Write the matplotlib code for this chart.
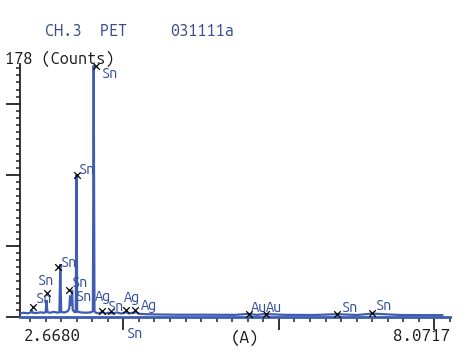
import matplotlib
matplotlib.use('Agg')
import matplotlib.pyplot as plt
from matplotlib import font_manager

# ---------------- data ----------------
wavelength = [2.313, 2.36, 2.42, 2.46, 2.475, 2.49, 2.54, 2.60, 2.64, 2.670, 2.682, 2.694,
              2.73, 2.78, 2.83, 2.861, 2.873, 2.885, 2.93, 2.975, 2.998, 3.009, 3.016, 3.023,
              3.030, 3.037, 3.046, 3.07, 3.088, 3.098, 3.108, 3.15, 3.22, 3.29, 3.326, 3.337,
              3.348, 3.37, 3.41, 3.46, 3.50, 3.54, 3.60, 3.66, 3.72, 3.78, 3.83, 3.88, 3.93,
              3.97, 4.05, 4.2, 4.5, 4.9, 5.3, 5.49, 5.6, 5.72, 6.0, 6.4, 6.72, 7.0, 7.2, 7.6,
              8.0, 8.181]
counts = [2.5, 3.0, 2.6, 3.2, 5.0, 3.0, 2.8, 3.3, 2.9, 3.5, 12.0, 3.4,
          3.0, 3.6, 3.1, 3.4, 37.0, 3.5, 3.2, 4.0, 6.0, 15.0, 8.0, 12.0,
          9.0, 19.0, 5.0, 3.5, 3.6, 100.0, 3.8, 3.3, 3.0, 3.2, 4.0, 177.0,
          4.0, 3.0, 2.6, 3.6, 2.4, 3.0, 2.6, 3.2, 2.4, 3.4, 2.5, 3.0, 3.3,
          2.2, 2.0, 1.8, 1.6, 1.6, 1.5, 2.2, 1.5, 2.1, 1.5, 1.4, 2.0, 1.4, 2.4, 1.4,
          1.3, 1.3]

marker_wl = [2.4906, 2.6953, 2.8454, 2.9955, 3.1047, 3.3640, 3.4595, 3.5823, 3.7870,
             3.9098, 5.4927, 5.7247, 6.7209, 7.1985]
marker_ct = [7.0, 16.9, 35.2, 19.0, 99.9, 176.6, 4.2, 4.2, 4.9, 4.9, 2.1, 2.1, 2.1, 2.8]

# peak labels: (text, marker index)
peak_labels = [("Sn", 0), ("Sn", 1), ("Sn", 2), ("Sn", 3), ("Sn", 3), ("Sn", 4), ("Sn", 5),
               ("Ag", 6), ("Sn", 7), ("Ag", 8), ("Ag", 9), ("Au", 10), ("Au", 11),
               ("Sn", 12), ("Sn", 13)]
# label offsets in pixels (dx right, dy up) from the marker
label_offsets = [(2, 4), (-10, 8), (2, 0), (2, 3), (6, -11), (1, 1), (5, -12),
                 (-8, 10), (-4, 0), (-2, 8), (6, 0), (2, 2), (0, 2), (4, 2), (3, 3)]

x_start, x_end = 2.6680, 8.0717
x_labels = ["2.6680", "(A)", "8.0717"]
y_max = 178
y_label = "178 (Counts)"
title_left = "CH.3  PET"
title_right = "031111a"
axis_peak_label = "Sn"

# ---------------- style ----------------
BLUE = '#3f5db0'
TXT_BLUE = '#344c9c'
TITLE_BLUE = '#3a4a8a'

def pick(fams):
    avail = {f.name for f in font_manager.fontManager.ttflist}
    for f in fams:
        if f in avail:
            return f
    return 'DejaVu Sans Mono'

MONO = pick(['Ubuntu Mono', 'Share Tech Mono', 'Liberation Mono', 'DejaVu Sans Mono'])

W, H = 472, 354
fig = plt.figure(figsize=(W / 100, H / 100), dpi=100)
fig.patch.set_facecolor('white')

def px_box(l, t, r, b):
    return [l / W, 1 - b / H, (r - l) / W, (b - t) / H]

ax = fig.add_axes(px_box(20, 64, 450, 317))
step = (x_end - x_start) / 25
ax.set_xlim(x_start - 26 * 0.013646, x_end + 8 * 0.013646)
ax.set_ylim(0, y_max)

ax.plot(wavelength, counts, color=BLUE, lw=1.6, solid_joinstyle='miter', zorder=3)
ax.scatter(marker_wl, marker_ct, marker='x', s=22, color='black', lw=0.9, zorder=4)

LBL = 10.5
for (txt, mi), (dx, dy) in zip(peak_labels, label_offsets):
    ax.annotate(txt, (marker_wl[mi], marker_ct[mi]), xytext=(dx, dy),
                textcoords='offset pixels', ha='left', va='baseline',
                fontsize=LBL, family=MONO, fontweight='bold', color=TXT_BLUE, zorder=5)

# axis label under the long tick
ax.annotate(axis_peak_label, (x_start + 5 * step, 0), xytext=(3, -21),
            textcoords='offset pixels', ha='left', va='baseline',
            fontsize=LBL, family=MONO, fontweight='bold', color=TXT_BLUE)

for s in ['top', 'right']:
    ax.spines[s].set_visible(False)
ax.spines['left'].set_color('#222222')
ax.spines['left'].set_linewidth(1.3)
ax.spines['bottom'].set_color(BLUE)
ax.spines['bottom'].set_linewidth(2.0)

ax.set_yticks([0, 50, 100, 150])
ax.set_yticks(list(range(0, 176, 5)), minor=True)
ax.tick_params(axis='y', which='major', length=10, width=1.3, direction='out',
               color='#222222', labelleft=False)
ax.tick_params(axis='y', which='minor', length=3.2, width=1.1, direction='out',
               color='#222222')

majors = [x_start + k * step for k in (5, 15, 25)]
minors = [x_start + k * step for k in range(-1, 27) if k not in (5, 15, 25)]
ax.set_xticks(majors)
ax.set_xticks(minors, minor=True)
ax.tick_params(axis='x', which='major', length=9, width=1.3, direction='out',
               color='#222222', labelbottom=False)
ax.tick_params(axis='x', which='minor', length=3.6, width=1.1, direction='out',
               color='#222222')

# texts
AX = 12.2
fig.text(52 / W, 1 - 336 / H, x_labels[0], ha='center', va='center', fontsize=AX,
         family=MONO, fontweight='bold', color='#1a1a1a')
fig.text(245 / W, 1 - 338 / H, x_labels[1], ha='center', va='center', fontsize=AX,
         family=MONO, fontweight='bold', color='#1a1a1a')
fig.text(422 / W, 1 - 336 / H, x_labels[2], ha='center', va='center', fontsize=AX,
         family=MONO, fontweight='bold', color='#1a1a1a')
fig.text(5 / W, 1 - 59 / H, y_label, ha='left', va='center', fontsize=11.7,
         family=MONO, fontweight='bold', color='#1a1a1a')
fig.text(45 / W, 1 - 31 / H, title_left, ha='left', va='center', fontsize=11.7,
         family=MONO, fontweight='bold', color=TITLE_BLUE)
fig.text(170 / W, 1 - 31 / H, title_right, ha='left', va='center', fontsize=11.7,
         family=MONO, fontweight='bold', color=TITLE_BLUE)

fig.savefig('out.png', dpi=100, facecolor='white')
